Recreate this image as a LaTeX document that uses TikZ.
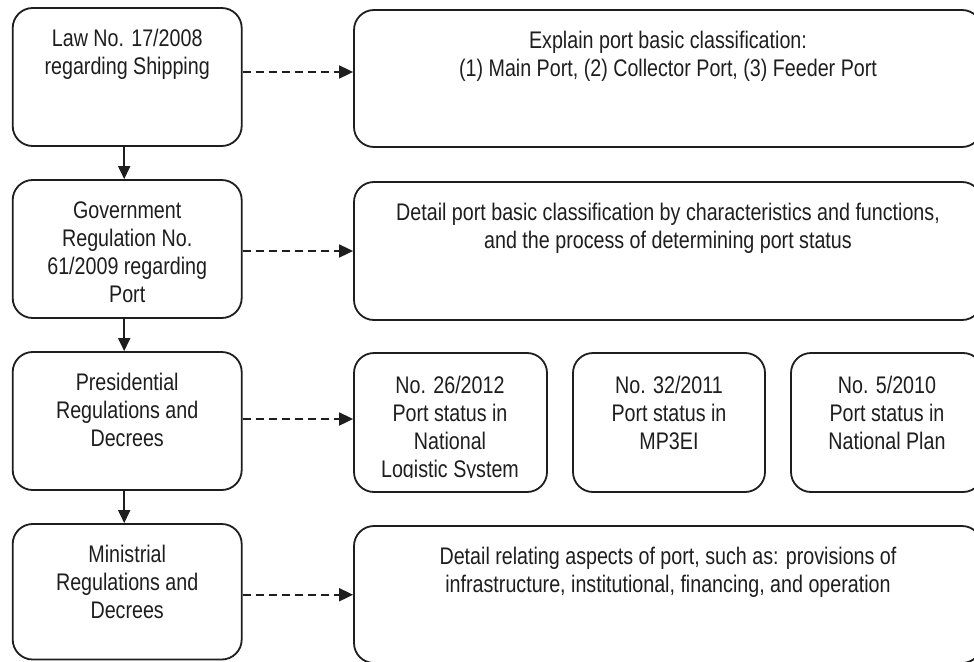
\documentclass[tikz,border=0pt]{standalone}
\usepackage{fontspec}
\setmainfont[FakeStretch=0.82]{Liberation Sans}
\usetikzlibrary{arrows.meta}
\definecolor{ink}{HTML}{1E1E1E}
\begin{document}
\begin{tikzpicture}[x=1pt,y=-1pt,
  box/.style={draw=ink, line width=1.8pt, rounded corners=20pt, inner sep=0pt},
  lbox/.style={box, minimum width=229pt, minimum height=138pt},
  txt/.style={text=ink, align=center, anchor=north, inner sep=0pt,
    font=\fontsize{24}{28}\selectfont},
  down/.style={draw=ink, line width=1.8pt, -{Triangle[length=13pt,width=12pt]}},
  dasharrow/.style={draw=ink, line width=1.8pt, dash pattern=on 8pt off 5pt,
    -{Triangle[length=14pt,width=13pt]}}
]
\useasboundingbox (0,0) rectangle (974,661);
\fill[white] (0,0) rectangle (974,661);

% left column
\node[lbox] (L1) at (127.2,77) {};
\node[lbox] (L2) at (127.2,249) {};
\node[lbox] (L3) at (127.2,421) {};
\node[lbox, minimum height=135.5pt] (L4) at (127.2,591.75) {};

\node[txt] (tL1) at (127.2,26.4) {\strut Law No. 17/2008\\regarding Shipping};
\node[txt] (tL2) at (127.2,198.4) {\strut Government\\Regulation No.\\61/2009 regarding\\Port};
\node[txt] (tL3) at (127.2,370.4) {\strut Presidential\\Regulations and\\Decrees};
\node[txt] (tL4) at (127.2,543) {\strut Ministrial\\Regulations and\\Decrees};

% right column
\node[box, minimum width=628pt, minimum height=137pt] (R1) at (668,78.5) {};
\node[box, minimum width=628pt, minimum height=138pt] (R2) at (668,251) {};
\node[box, minimum width=193pt, minimum height=139pt] (RA) at (450.5,422.5) {};
\node[box, minimum width=192pt, minimum height=139pt] (RB) at (669,422.5) {};
\node[box, minimum width=192pt, minimum height=139pt] (RC) at (887,422.5) {};
\node[box, minimum width=628pt, minimum height=137pt] (R4) at (668,594.5) {};

\node[txt] (tR1) at (668,28.4) {\strut Explain port basic classification:\\(1) Main Port, (2) Collector Port, (3) Feeder Port};
\node[txt] (tR2) at (668,200.4) {\strut Detail port basic classification by characteristics and functions,\\and the process of determining port status};
\begin{scope}
  \clip (356,355) rectangle (545,477);
  \node[txt] (tRA) at (450,373.4) {\strut No. 26/2012\\Port status in\\National\\Logistic System};
\end{scope}
\node[txt] (tRB) at (669,373.4) {\strut No. 32/2011\\Port status in\\MP3EI};
\node[txt] (tRC) at (887,373.4) {\strut No. 5/2010\\Port status in\\National Plan};
\node[txt] (tR4) at (668,544.4) {\strut Detail relating aspects of port, such as: provisions of\\infrastructure, institutional, financing, and operation};

% vertical arrows
\draw[down] ([xshift=-3pt]L1.south) -- ([xshift=-3pt]L2.north);
\draw[down] ([xshift=-3pt]L2.south) -- ([xshift=-3pt]L3.north);
\draw[down] ([xshift=-3pt]L3.south) -- ([xshift=-3pt]L4.north);

% dashed arrows
\coordinate (a1) at ([yshift=5pt]L1.east);
\coordinate (a2) at ([yshift=-2pt]L2.east);
\coordinate (a3) at ([yshift=2pt]L3.east);
\coordinate (a4) at ([yshift=-3pt]L4.east);
\draw[dasharrow] (a1) -- (R1.west |- a1);
\draw[dasharrow] (a2) -- (R2.west |- a2);
\draw[dasharrow] (a3) -- (RA.west |- a3);
\draw[dasharrow] (a4) -- (R4.west |- a4);
\end{tikzpicture}
\end{document}
